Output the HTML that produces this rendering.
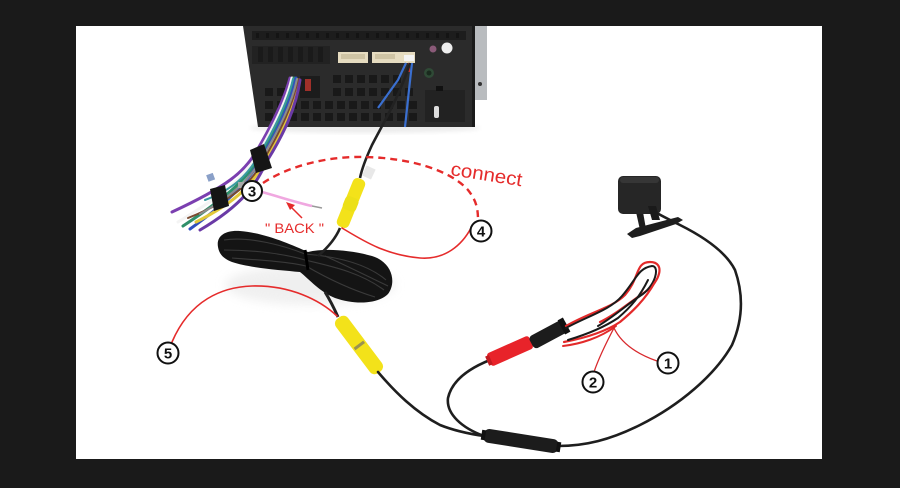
<!DOCTYPE html>
<html><head><meta charset="utf-8"><style>
html,body{margin:0;padding:0;background:#1a1a1a;}
svg{display:block;}
</style></head><body>
<svg width="900" height="488" viewBox="0 0 900 488" xmlns="http://www.w3.org/2000/svg">
<defs>
<filter id="bl" x="-20%" y="-20%" width="140%" height="140%"><feGaussianBlur stdDeviation="5"/></filter>
<filter id="bl2" x="-20%" y="-20%" width="140%" height="140%"><feGaussianBlur stdDeviation="2"/></filter>
</defs>
<rect x="0" y="0" width="900" height="488" fill="#1a1a1a"/>
<rect x="76" y="26" width="746" height="433" fill="#ffffff"/>

<!-- soft shadows -->
<ellipse cx="310" cy="285" rx="85" ry="20" fill="#e6e6e6" filter="url(#bl)" opacity="0.6"/>
<ellipse cx="365" cy="128" rx="115" ry="5" fill="#ececec" filter="url(#bl2)"/>

<!-- head unit -->
<polygon points="243,26 487,26 487,100 473,100 473,127 258,127" fill="#2b2b2b"/>
<rect x="473" y="26" width="14" height="74" fill="#b9bcbf"/>
<rect x="472" y="26" width="3" height="101" fill="#1a1a1a"/>
<circle cx="480" cy="84" r="2" fill="#333"/>
<g fill="#141414">
<rect x="252" y="31" width="214" height="9" fill="#1d1d1d"/>
<rect x="256" y="33" width="3" height="5"/><rect x="266" y="33" width="3" height="5"/><rect x="276" y="33" width="3" height="5"/><rect x="286" y="33" width="3" height="5"/><rect x="296" y="33" width="3" height="5"/><rect x="306" y="33" width="3" height="5"/><rect x="316" y="33" width="3" height="5"/><rect x="326" y="33" width="3" height="5"/><rect x="336" y="33" width="3" height="5"/><rect x="346" y="33" width="3" height="5"/><rect x="356" y="33" width="3" height="5"/><rect x="366" y="33" width="3" height="5"/><rect x="376" y="33" width="3" height="5"/><rect x="386" y="33" width="3" height="5"/><rect x="396" y="33" width="3" height="5"/><rect x="406" y="33" width="3" height="5"/><rect x="416" y="33" width="3" height="5"/><rect x="426" y="33" width="3" height="5"/><rect x="436" y="33" width="3" height="5"/><rect x="446" y="33" width="3" height="5"/><rect x="456" y="33" width="3" height="5"/>
</g>
<g fill="#1a1a1a">
<rect x="252" y="46" width="78" height="18" fill="#222"/>
<rect x="258" y="47" width="5" height="15"/><rect x="268" y="47" width="5" height="15"/><rect x="278" y="47" width="5" height="15"/><rect x="288" y="47" width="5" height="15"/><rect x="298" y="47" width="5" height="15"/><rect x="308" y="47" width="5" height="15"/><rect x="318" y="47" width="5" height="15"/>
</g>
<g fill="#191919">
<rect x="333" y="75" width="8" height="8"/><rect x="345" y="75" width="8" height="8"/><rect x="357" y="75" width="8" height="8"/><rect x="369" y="75" width="8" height="8"/><rect x="381" y="75" width="8" height="8"/><rect x="393" y="75" width="8" height="8"/>
<rect x="265" y="88" width="8" height="8"/><rect x="277" y="88" width="8" height="8"/><rect x="333" y="88" width="8" height="8"/><rect x="345" y="88" width="8" height="8"/><rect x="357" y="88" width="8" height="8"/><rect x="369" y="88" width="8" height="8"/><rect x="381" y="88" width="8" height="8"/><rect x="393" y="88" width="8" height="8"/><rect x="405" y="88" width="8" height="8"/>
<rect x="265" y="101" width="8" height="8"/><rect x="277" y="101" width="8" height="8"/><rect x="289" y="101" width="8" height="8"/><rect x="301" y="101" width="8" height="8"/><rect x="313" y="101" width="8" height="8"/><rect x="325" y="101" width="8" height="8"/><rect x="337" y="101" width="8" height="8"/><rect x="349" y="101" width="8" height="8"/><rect x="361" y="101" width="8" height="8"/><rect x="373" y="101" width="8" height="8"/><rect x="385" y="101" width="8" height="8"/><rect x="397" y="101" width="8" height="8"/><rect x="409" y="101" width="8" height="8"/>
<rect x="265" y="113" width="8" height="8"/><rect x="277" y="113" width="8" height="8"/><rect x="289" y="113" width="8" height="8"/><rect x="301" y="113" width="8" height="8"/><rect x="313" y="113" width="8" height="8"/><rect x="325" y="113" width="8" height="8"/><rect x="337" y="113" width="8" height="8"/><rect x="349" y="113" width="8" height="8"/><rect x="361" y="113" width="8" height="8"/><rect x="373" y="113" width="8" height="8"/><rect x="385" y="113" width="8" height="8"/><rect x="397" y="113" width="8" height="8"/><rect x="409" y="113" width="8" height="8"/>
<rect x="425" y="90" width="40" height="32" fill="#222"/>
</g>
<rect x="300" y="76" width="20" height="22" fill="#1c1c1c"/>
<rect x="305" y="79" width="6" height="12" fill="#a0302a"/>
<rect x="338" y="52" width="30" height="11" fill="#e6dcc0"/>
<rect x="341" y="54" width="24" height="5" fill="#cfc4a4"/>
<rect x="372" y="52" width="43" height="11" fill="#e6dcc0"/>
<rect x="375" y="54" width="20" height="5" fill="#cfc4a4"/>
<rect x="404" y="55" width="10" height="6" fill="#f4f4f4"/>
<circle cx="447" cy="48" r="5.5" fill="#eeeeee"/>
<circle cx="433" cy="49" r="3.5" fill="#8a5a78"/>
<circle cx="429" cy="73" r="5" fill="#2f4a36"/>
<circle cx="429" cy="73" r="2.5" fill="#1a2a1e"/>
<rect x="436" y="86" width="7" height="5" fill="#111"/>
<rect x="434" y="106" width="5" height="12" rx="2" fill="#dddddd"/>
<path d="M406,63 L398,80 L378,108" stroke="#3a6fd0" stroke-width="2.2" fill="none"/>
<path d="M412,63 L409,90 L405,127" stroke="#3a6fd0" stroke-width="2.2" fill="none"/>
<path d="M409,63 L409,72" stroke="#c03030" stroke-width="2" fill="none"/>

<!-- harness -->
<g fill="none" stroke-linecap="round">
<path d="M290,78 C284,100 272,125 256,152 C244,172 228,186 172,212" stroke="#7b3fb0" stroke-width="3"/>
<path d="M292,78 C287,100 275,125 258,154 C246,175 231,190 178,222" stroke="#f4f4f4" stroke-width="3"/>
<path d="M294,78 C289,101 277,126 260,156 C248,177 233,193 183,226" stroke="#2f8f6a" stroke-width="3"/>
<path d="M296,78 C291,102 279,128 262,157 C250,179 236,196 190,229" stroke="#3050c0" stroke-width="3"/>
<path d="M299,80 C294,106 283,131 265,160 C254,182 240,200 196,222" stroke="#e2c83a" stroke-width="3"/>
<path d="M300,80 C296,107 285,132 267,161 C256,184 244,204 200,230" stroke="#6a3aa6" stroke-width="3"/>
<path d="M298,79 C293,105 281,130 264,159 C252,181 238,198 188,218" stroke="#7a4a30" stroke-width="2"/>
<path d="M297,79 C292,103 280,128 262,158 C250,179 235,194 200,214" stroke="#8c8c8c" stroke-width="2"/>
<path d="M293,79 C288,101 276,126 259,155 C247,176 232,190 205,200" stroke="#3a9aa0" stroke-width="2"/>
</g>
<path d="M250,150 L264,144 L272,168 L256,173 Z" fill="#151515"/>
<path d="M210,189 L225,185 L229,206 L214,211 Z" fill="#151515"/>
<rect x="207" y="174" width="7" height="7" fill="#8aa0c8" transform="rotate(-20 210 177)"/>
<rect x="238" y="182" width="6" height="6" fill="#aaaaaa"/>

<!-- black cable from head unit to yellow connector -->
<path d="M410,63 C400,95 385,120 372,145 C366,158 362,168 360,178" stroke="#222" stroke-width="2.6" fill="none"/>
<rect x="364" y="167" width="10" height="11" fill="#e8e8e8" transform="rotate(25 369 172)"/>

<!-- coil -->
<path d="M218,247 C216,236 225,230 240,231 C265,233 290,244 308,252 C325,248 350,250 372,256 C392,262 397,282 388,294 C378,304 355,305 335,298 C320,292 310,280 300,272 C280,270 250,268 232,262 C222,258 219,253 218,247 Z" fill="#141414"/>
<g fill="none" stroke="#3a3a3a" stroke-width="1.1">
<path d="M224,240 C250,236 285,246 305,254 C330,256 365,262 386,280"/>
<path d="M224,250 C255,250 285,254 305,260 C330,266 360,272 384,290"/>
<path d="M232,258 C260,260 290,262 306,266 C330,280 352,290 375,297"/>
<path d="M325,256 C345,265 365,275 388,286"/>
</g>
<path d="M305,250 L308,270" stroke="#000" stroke-width="3"/>

<path d="M340,228 C335,240 325,250 318,256" stroke="#222" stroke-width="2.6" fill="none"/>
<path d="M325,292 C330,300 334,308 338,317" stroke="#222" stroke-width="3" fill="none"/>

<!-- yellow connector 1 -->
<g transform="translate(351,203) rotate(22)">
<rect x="-6.5" y="-26" width="13" height="52" rx="5" fill="#f3e21a"/>
<rect x="-7" y="-6" width="14" height="14" rx="4" fill="#ece018"/>
</g>
<!-- yellow connector 2 -->
<g transform="translate(359,345) rotate(-37)">
<rect x="-7.5" y="-34" width="15" height="68" rx="6" fill="#f3e21a"/>
<rect x="-6" y="-1" width="12" height="3" fill="#9a9250"/>
</g>

<!-- lower cables -->
<g fill="none" stroke="#1e1e1e" stroke-width="2.6" stroke-linecap="round">
<path d="M378,372 C395,392 415,412 440,425 C455,431 470,434 484,436"/>
<path d="M490,360 C470,368 452,380 448,398 C446,414 462,428 484,436"/>
<path d="M558,446 C585,446 610,440 640,425 C680,405 715,375 732,345 C745,315 742,290 735,270 C725,250 700,235 680,225 C670,220 662,216 655,212"/>
</g>
<g transform="translate(521,441) rotate(9)">
<rect x="-38" y="-7" width="76" height="14" rx="6" fill="#1c1c1c"/>
<rect x="-40" y="-5" width="4" height="10" fill="#111"/>
<rect x="36" y="-5" width="4" height="10" fill="#111"/>
</g>

<!-- red connector + black plug -->
<g transform="translate(510,351) rotate(-24)">
<rect x="-23" y="-7" width="46" height="14" rx="3" fill="#e8232a"/>
<rect x="-25" y="-5" width="4" height="10" fill="#c01a20"/>
</g>
<g transform="translate(549,334) rotate(-28)">
<rect x="-20" y="-7" width="40" height="14" rx="4" fill="#1c1c1c"/>
<rect x="14" y="-8" width="6" height="16" fill="#111"/>
</g>
<g fill="none" stroke-linecap="round">
<path d="M566,326 C590,312 612,308 625,295 C640,278 635,262 650,262 C666,262 660,282 645,292 C630,302 615,315 600,322" stroke="#e32a2a" stroke-width="2.2"/>
<path d="M566,328 C588,316 610,310 622,296 C636,280 638,268 652,266 C660,266 656,286 640,296 C628,304 612,318 598,326" stroke="#1a1a1a" stroke-width="2"/>
<path d="M564,342 C585,338 605,332 620,322 C632,312 645,300 655,282" stroke="#e32a2a" stroke-width="2.2"/>
<path d="M568,340 C588,334 606,326 618,318 C632,306 640,296 648,280" stroke="#1a1a1a" stroke-width="2"/>
<path d="M563,346 C580,344 600,338 616,326" stroke="#e32a2a" stroke-width="2"/>
<path d="M615,326 C605,345 598,360 594,372" stroke="#d8282c" stroke-width="1.3"/>
<path d="M614,328 C622,345 640,355 657,361" stroke="#d8282c" stroke-width="1.3"/>
</g>

<!-- camera -->
<path d="M627,234 L636,228 L678,217 L683,220 L676,224 L640,236 L632,238 Z" fill="#1e1e1e"/>
<path d="M636,212 L640,230 L646,229 L643,212 Z" fill="#1e1e1e"/>
<rect x="618" y="176" width="43" height="38" rx="5" fill="#262626"/>
<rect x="620" y="177" width="39" height="6" rx="3" fill="#363636"/>
<path d="M648,206 L652,220 L660,220 L656,206 Z" fill="#1a1a1a"/>

<!-- red annotation lines -->
<g fill="none" stroke="#e52b2b" stroke-width="1.6" stroke-linecap="round">
<path d="M342,228 C362,240 385,255 420,258 C445,260 462,245 471,228"/>
<path d="M172,342 C190,300 222,287 252,286 C290,285 320,300 337,316"/>
</g>
<path d="M263,183 C290,165 330,156 365,157 C410,158 450,170 468,190 C476,200 478,208 478,220" stroke="#e52b2b" stroke-width="2.4" fill="none" stroke-dasharray="7,5"/>

<path d="M262,192 C280,197 295,202 312,206" stroke="#f0a8e0" stroke-width="2.6" fill="none"/>
<path d="M312,206 L322,208" stroke="#999" stroke-width="1.5" fill="none"/>
<path d="M302,218 L290,206" stroke="#e52b2b" stroke-width="1.5" fill="none"/>
<path d="M286,202 L295,205 L290,210 Z" fill="#e52b2b"/>

<text x="450" y="175" font-family="Liberation Sans, sans-serif" font-size="19" fill="#e52b2b" transform="rotate(9 450 175)" textLength="72" lengthAdjust="spacingAndGlyphs">connect</text>
<text x="265" y="233" font-family="Liberation Sans, sans-serif" font-size="14" fill="#e52b2b" textLength="59" lengthAdjust="spacingAndGlyphs">" BACK "</text>

<g font-family="Liberation Sans, sans-serif" font-weight="bold" font-size="15" text-anchor="middle" fill="#111">
<circle cx="252" cy="191" r="10" fill="#fff" stroke="#111" stroke-width="2"/><text x="252" y="196.5">3</text>
<circle cx="481" cy="231" r="10.5" fill="#fff" stroke="#111" stroke-width="2"/><text x="481" y="236.5">4</text>
<circle cx="168" cy="353" r="10.5" fill="#fff" stroke="#111" stroke-width="2"/><text x="168" y="358.5">5</text>
<circle cx="593" cy="382" r="10.5" fill="#fff" stroke="#111" stroke-width="2"/><text x="593" y="387.5">2</text>
<circle cx="668" cy="363" r="10.5" fill="#fff" stroke="#111" stroke-width="2"/><text x="668" y="368.5">1</text>
</g>
</svg>
</body></html>
